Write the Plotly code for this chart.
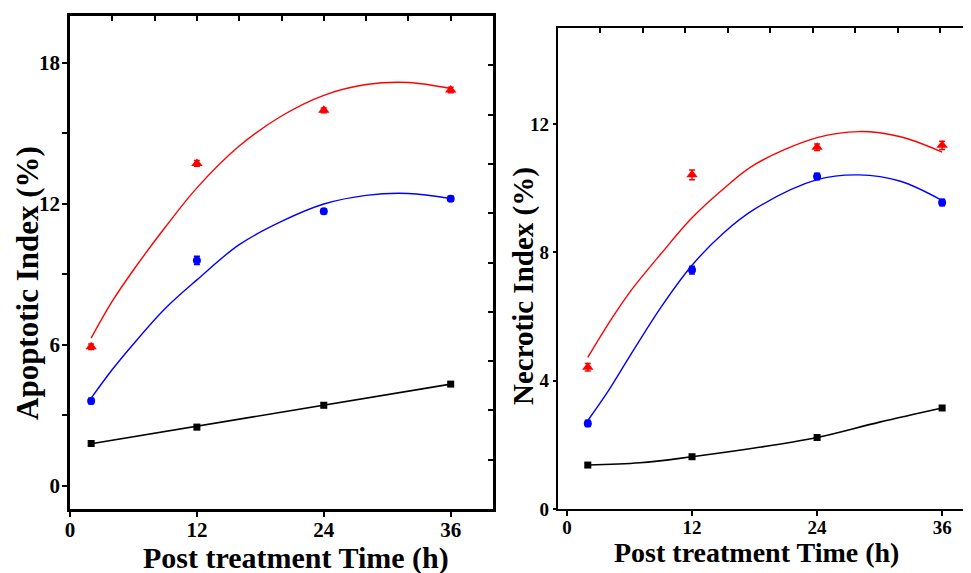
import plotly.graph_objects as go

# ---------------- data ----------------
time_h = [2, 12, 24, 36]

# Left panel: Apoptotic Index (%)
apo_black = [1.79, 2.49, 3.42, 4.32]
apo_red = [5.91, 13.72, 15.98, 16.85]
apo_blue = [3.60, 9.59, 11.68, 12.22]
apo_black_err = [0.08, 0.10, 0.10, 0.08]
apo_red_err = [0.12, 0.12, 0.10, 0.12]
apo_blue_err = [0.12, 0.18, 0.10, 0.10]

# fitted curves (left panel)
apo_fit_t = [2, 4, 6, 9, 12, 16, 20, 24, 28, 32, 36]
apo_fit_red = [6.28, 7.85, 9.18, 11.0, 12.68, 14.46, 15.74, 16.62, 17.08, 17.17, 16.91]
apo_fit_blue = [3.72, 4.94, 6.03, 7.54, 8.76, 10.26, 11.25, 11.99, 12.36, 12.44, 12.22]
apo_fit_black_t = [2, 36]
apo_fit_black = [1.78, 4.32]

# Right panel: Necrotic Index (%)
nec_black = [1.37, 1.63, 2.23, 3.15]
nec_red = [4.42, 10.42, 11.28, 11.34]
nec_blue = [2.67, 7.45, 10.37, 9.56]
nec_black_err = [0.06, 0.06, 0.08, 0.06]
nec_red_err = [0.12, 0.15, 0.10, 0.13]
nec_blue_err = [0.10, 0.12, 0.10, 0.10]

nec_fit_t = [2, 4, 6, 9, 12, 15, 18, 24, 28, 32, 36]
nec_fit_red = [4.73, 5.79, 6.75, 7.95, 9.08, 9.98, 10.74, 11.58, 11.77, 11.61, 11.13]
nec_fit_blue = [2.76, 3.70, 4.75, 6.28, 7.60, 8.60, 9.35, 10.27, 10.42, 10.22, 9.62]
nec_fit_black_t = [2, 7, 12, 18, 24, 30, 36]
nec_fit_black = [1.37, 1.44, 1.63, 1.90, 2.23, 2.71, 3.15]

x_ticks = [0, 12, 24, 36]
apo_y_ticks = [0, 6, 12, 18]
nec_y_ticks = [0, 4, 8, 12]

# ---------------- figure ----------------
FONT = "Liberation Serif"
fig = go.Figure()

def add_panel(xa, ya, fit_t, fits, fit_black_t, fit_black, pts, errs):
    colors = ["black", "red", "blue"]
    symbols = ["square", "triangle-up", "circle"]
    sizes = [7, 10, 8]
    fig.add_trace(go.Scatter(x=fit_black_t, y=fit_black, mode="lines",
                             line=dict(color="black", width=1.6, shape="spline"),
                             xaxis=xa, yaxis=ya, showlegend=False, hoverinfo="skip"))
    for f, c in zip(fits, ["red", "blue"]):
        fig.add_trace(go.Scatter(x=fit_t, y=f, mode="lines",
                                 line=dict(color=c, width=1.4, shape="spline", smoothing=1.0),
                                 xaxis=xa, yaxis=ya, showlegend=False, hoverinfo="skip"))
    for vals, e, c, s, sz in zip(pts, errs, colors, symbols, sizes):
        fig.add_trace(go.Scatter(x=time_h, y=vals, mode="markers",
                                 marker=dict(color=c, symbol=s, size=sz),
                                 error_y=dict(type="data", array=e, color=c, thickness=1.5, width=3),
                                 xaxis=xa, yaxis=ya, showlegend=False))

add_panel("x", "y", apo_fit_t, [apo_fit_red, apo_fit_blue], apo_fit_black_t, apo_fit_black,
          [apo_black, apo_red, apo_blue], [apo_black_err, apo_red_err, apo_blue_err])
add_panel("x2", "y2", nec_fit_t, [nec_fit_red, nec_fit_blue], nec_fit_black_t, nec_fit_black,
          [nec_black, nec_red, nec_blue], [nec_black_err, nec_red_err, nec_blue_err])

# dummy traces to activate the overlay axes
fig.add_trace(go.Scatter(x=[None], y=[None], xaxis="x3", yaxis="y3", showlegend=False))
fig.add_trace(go.Scatter(x=[None], y=[None], xaxis="x4", yaxis="y2", showlegend=False))

# page body has an 8px margin: figure is sized to fit the 971x573 window
OFF = 8
W, H = 971 - OFF, 573 - OFF

def px_x(p):
    return (p - OFF) / W

def px_y(p):
    return (573 - p) / H

L_dom = [px_x(70), px_x(493)]
L_ydom = [px_y(509), px_y(16)]
R_dom = [px_x(558), 1.0]
R_ydom = [px_y(509), px_y(28)]

tick_font_l = dict(family=FONT, size=21, color="black", weight="bold")
tick_font_r = dict(family=FONT, size=19, color="black", weight="bold")

common = dict(showgrid=False, zeroline=False, showline=True, linecolor="black",
              tickcolor="black", automargin=False)

fig.update_layout(
    width=W, height=H,
    margin=dict(l=0, r=0, t=0, b=0),
    paper_bgcolor="white", plot_bgcolor="white",
    xaxis=dict(domain=L_dom, range=[0, 40], tickvals=x_ticks, ticks="outside", ticklen=5,
               tickwidth=2, linewidth=2.5, tickfont=tick_font_l, anchor="y",
               ticklabelstandoff=-5, **common),
    yaxis=dict(domain=L_ydom, range=[-1, 20], tickvals=apo_y_ticks, ticks="outside", ticklen=5,
               tickwidth=2, linewidth=2.5, tickfont=tick_font_l, anchor="x",
               ticklabelstandoff=-2,
               minor=dict(dtick=3, tick0=0, ticks="outside", ticklen=5, tickwidth=2, tickcolor="black"),
               **common),
    xaxis3=dict(overlaying="x", side="top", range=[0, 40], dtick=4, tick0=0, ticks="inside",
                ticklen=5, tickwidth=2, linewidth=2.5, showticklabels=False, anchor="y", **common),
    yaxis3=dict(overlaying="y", side="right", range=[0, 10], dtick=1, tick0=0, ticks="inside",
                ticklen=5, tickwidth=2, linewidth=2.5, showticklabels=False, anchor="x", **common),
    xaxis2=dict(domain=R_dom, range=[-0.86, 38.77], tickvals=x_ticks, ticks="outside", ticklen=5,
                tickwidth=2, linewidth=2.2, tickfont=tick_font_r, anchor="y2",
                ticklabelstandoff=-5, **common),
    yaxis2=dict(domain=R_ydom, range=[0, 15], tickvals=nec_y_ticks, ticks="outside", ticklen=3,
                tickwidth=2, linewidth=2.2, tickfont=tick_font_r, anchor="x2", **common),
    xaxis4=dict(overlaying="x2", side="top", range=[0, 38.9], dtick=4, tick0=0, ticks="inside",
                ticklen=5, tickwidth=2, linewidth=2.2, showticklabels=False, anchor="y2", **common),
)

title_font_big = dict(family=FONT, size=31, color="black", weight="bold")
title_font_x = dict(family=FONT, size=30, color="black", weight="bold")
title_font_small = dict(family=FONT, size=29, color="black", weight="bold")
title_font_small_x = dict(family=FONT, size=28, color="black", weight="bold")

fig.add_annotation(text="Apoptotic Index (%)", x=px_x(27), y=px_y(283), xref="paper", yref="paper",
                   textangle=-90, showarrow=False, xanchor="center", yanchor="middle", font=title_font_big)
fig.add_annotation(text="Post treatment Time (h)", x=px_x(296), y=px_y(558), xref="paper", yref="paper",
                   showarrow=False, xanchor="center", yanchor="middle", font=title_font_x)
fig.add_annotation(text="Necrotic Index (%)", x=px_x(523), y=px_y(286), xref="paper", yref="paper",
                   textangle=-90, showarrow=False, xanchor="center", yanchor="middle", font=title_font_small)
fig.add_annotation(text="Post treatment Time (h)", x=px_x(756), y=px_y(552), xref="paper", yref="paper",
                   showarrow=False, xanchor="center", yanchor="middle", font=title_font_small_x)

fig.write_html("out.html")
